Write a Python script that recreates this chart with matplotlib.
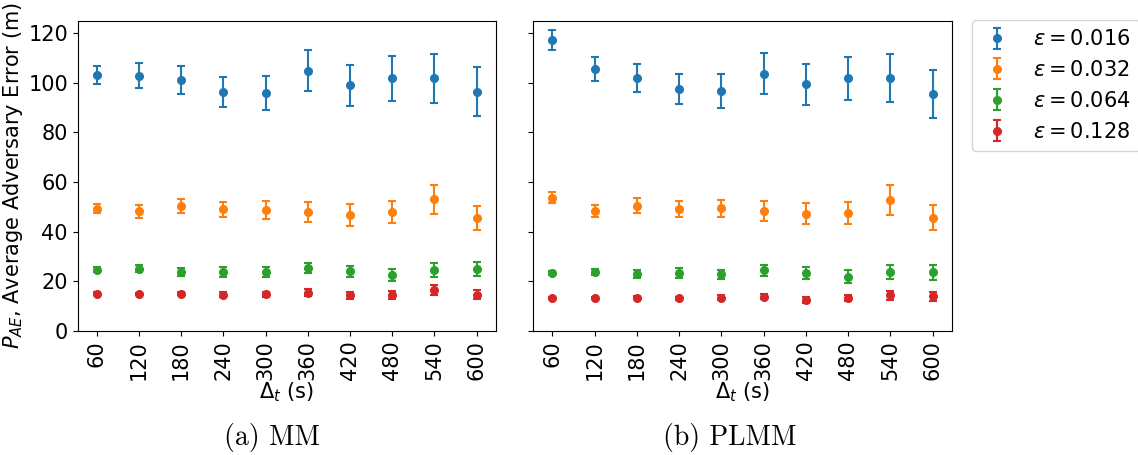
import matplotlib
matplotlib.use("Agg")
import matplotlib.pyplot as plt
import numpy as np

dt = [60, 120, 180, 240, 300, 360, 420, 480, 540, 600]
eps_labels = [r"$\epsilon = 0.016$", r"$\epsilon = 0.032$", r"$\epsilon = 0.064$", r"$\epsilon = 0.128$"]

# MM
mm_016 = [103.0, 102.9, 101.0, 96.2, 95.8, 104.8, 98.9, 101.7, 101.8, 96.4]
mm_016_err = [3.6, 5.0, 5.7, 6.0, 7.0, 8.2, 8.3, 8.9, 9.8, 9.8]
mm_032 = [49.2, 48.1, 50.3, 48.9, 48.8, 47.7, 46.6, 48.0, 53.0, 45.4]
mm_032_err = [1.8, 2.5, 2.9, 3.1, 3.6, 4.0, 4.3, 4.5, 5.9, 4.9]
mm_064 = [24.6, 25.0, 23.7, 23.8, 23.8, 25.3, 24.0, 22.3, 24.6, 24.9]
mm_064_err = [1.0, 1.5, 1.6, 2.0, 2.0, 2.2, 2.2, 2.4, 2.8, 2.9]
mm_128 = [15.0, 14.8, 15.0, 14.5, 14.7, 15.4, 14.2, 14.5, 16.4, 14.5]
mm_128_err = [0.5, 0.6, 0.7, 1.0, 1.1, 1.6, 1.5, 1.7, 1.9, 1.9]

# PLMM
pl_016 = [117.3, 105.6, 101.8, 97.6, 96.6, 103.6, 99.4, 101.8, 101.9, 95.5]
pl_016_err = [4.0, 4.9, 5.7, 6.0, 7.0, 8.2, 8.2, 8.7, 9.7, 9.7]
pl_032 = [53.7, 48.3, 50.4, 49.1, 49.3, 48.1, 47.2, 47.6, 52.6, 45.5]
pl_032_err = [2.2, 2.4, 3.0, 3.2, 3.5, 4.0, 4.3, 4.4, 6.0, 5.0]
pl_064 = [23.2, 23.5, 22.9, 23.1, 22.8, 24.3, 23.2, 21.8, 23.6, 23.6]
pl_064_err = [0.8, 1.2, 1.5, 2.0, 1.8, 2.2, 2.4, 2.5, 2.8, 3.0]
pl_128 = [13.1, 13.1, 13.2, 13.0, 13.3, 13.7, 12.5, 13.1, 14.2, 13.9]
pl_128_err = [0.4, 0.5, 0.6, 0.7, 0.9, 1.1, 1.2, 1.3, 1.9, 1.9]

colors = ["#1f77b4", "#ff7f0e", "#2ca02c", "#d62728"]

fig = plt.figure(figsize=(11.38, 4.55), dpi=100)
W, H = 1138, 455
ax1 = fig.add_axes([77.7 / W, (H - 330.7) / H, 418 / W, 310 / H])
ax2 = fig.add_axes([533.3 / W, (H - 330.7) / H, 418.4 / W, 310 / H], sharey=ax1)

fs = 15
datasets = [
    (ax1, [mm_016, mm_032, mm_064, mm_128], [mm_016_err, mm_032_err, mm_064_err, mm_128_err]),
    (ax2, [pl_016, pl_032, pl_064, pl_128], [pl_016_err, pl_032_err, pl_064_err, pl_128_err]),
]
handles = []
for ax, vals, errs in datasets:
    hs = []
    for v, e, c, lab in zip(vals, errs, colors, eps_labels):
        h = ax.errorbar(dt, v, yerr=e, fmt="o", color=c, ms=5.5, capsize=3,
                        elinewidth=1.5, capthick=1.5, label=lab)
        hs.append(h)
    handles = hs
    ax.set_xticks(dt)
    ax.set_xticklabels([str(d) for d in dt], rotation=90, fontsize=fs)
    ax.tick_params(axis="y", labelsize=fs)
    ax.set_xlabel(r"$\Delta_t$ (s)", fontsize=fs, labelpad=0)
    ax.margins(x=0.05)

ax1.set_ylim(0, 125)
ax1.set_yticks([0, 20, 40, 60, 80, 100, 120])
ax1.set_ylabel(r"$P_{AE}$, Average Adversary Error (m)", fontsize=fs, labelpad=2)
plt.setp(ax2.get_yticklabels(), visible=False)

fig.legend(handles=handles, labels=eps_labels, loc="upper left",
           bbox_to_anchor=(972 / W, (H - 20) / H), fontsize=fs,
           labelspacing=0.52, borderpad=0.45, handlelength=1.5, handletextpad=1.0,
           borderaxespad=0.0)

fig.text(271.7 / W, (H - 438) / H, "(a) MM", ha="center", va="center",
         fontsize=20, family="cmr10")
fig.text(730 / W, (H - 438) / H, "(b) PLMM", ha="center", va="center",
         fontsize=20, family="cmr10")

fig.savefig("out.png", dpi=100)
